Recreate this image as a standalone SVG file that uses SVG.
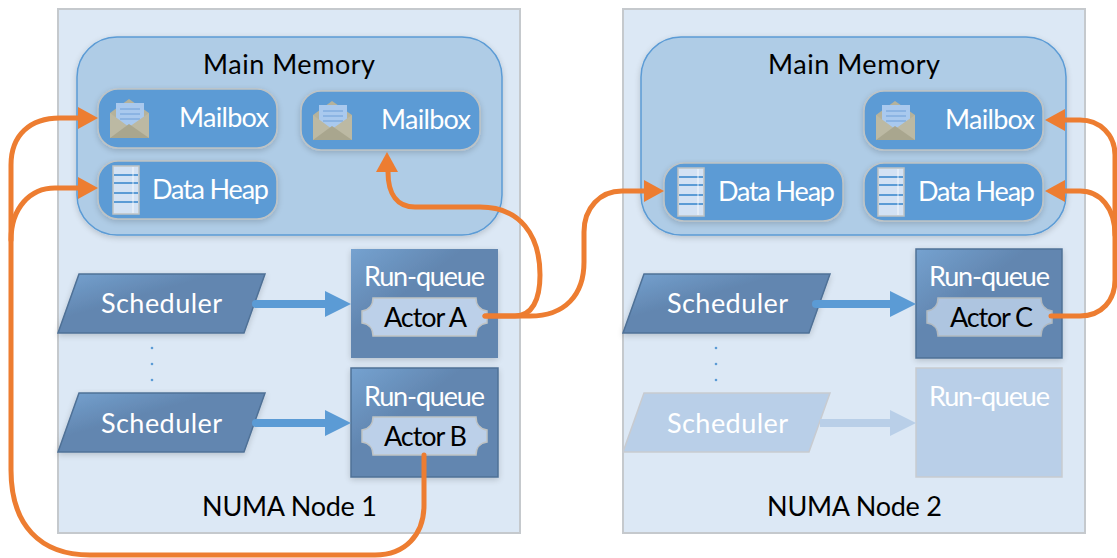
<svg xmlns="http://www.w3.org/2000/svg" width="1117" height="558" viewBox="0 0 1117 558">
<style>
text{font-family:"Lato","Open Sans","Liberation Sans",sans-serif;font-size:27px;text-anchor:start}
.w{fill:#fff}.k{fill:#000}
.panel{fill:#dce8f5;stroke:#c5c9cd;stroke-width:2}
.mem{fill:#afcce6;stroke:#5b9bd5;stroke-width:1.5;filter:url(#sh)}
.pill{fill:#5b9bd5;stroke:#bfc3c4;stroke-width:1.5;filter:url(#sh)}
.rq{fill:url(#g);filter:url(#sh)}
.rqb{fill:url(#g);stroke:#4f7196;stroke-width:1.5;filter:url(#sh)}
.fade{fill:#b9cfe8;stroke:#c8cbd0;stroke-width:1.5}
.o{fill:none;stroke:#ed7d31;stroke-width:5;stroke-linecap:round}
.oh{fill:#ed7d31}
.b{stroke:#5b9bd5;stroke-width:8;stroke-linecap:round;fill:none}
.bh{fill:#5b9bd5}
.dot{fill:#5b9bd5}
</style>
<defs>
<linearGradient id="g" x1="0" y1="0" x2="0.7" y2="0.7"><stop offset="0" stop-color="#75a2d0"/><stop offset="0.55" stop-color="#6286b0"/><stop offset="1" stop-color="#6286b0"/></linearGradient>
<filter id="sh" x="-10%" y="-10%" width="120%" height="125%"><feGaussianBlur in="SourceAlpha" stdDeviation="3"/><feOffset dy="2"/><feComponentTransfer><feFuncA type="linear" slope="0.18"/></feComponentTransfer><feMerge><feMergeNode/><feMergeNode in="SourceGraphic"/></feMerge></filter>
<g id="mail">
<path d="M0 14 L19 0 L39 14 V39 H0Z" fill="#b5b29b"/>
<rect x="6" y="4" width="28" height="24" fill="#a9c9ee"/>
<path d="M10 10H30M10 15H30M10 20H30" stroke="#6f9fd8" stroke-width="1"/>
<path d="M0 14 L19 28 L39 14 V39 H0Z" fill="#bcb9a3"/>
<path d="M0 39 L19 25 L39 39" fill="#a9a68e"/>
</g>
<g id="heap">
<rect x="0" y="0" width="26" height="48" fill="#d3e2f4" stroke="#bfc3c4" stroke-width="1.5"/>
<path d="M1 9H25M1 17H25M1 27H25M1 36H25" stroke="#5b9bd5" stroke-width="1.8"/>
<path d="M20 1V47" stroke="#fff" stroke-width="0.8"/>
</g>
<path id="actor" d="M11 0H114C114 7 118 12 125 13V25C118 26 114 31 114 38H11C11 31 7 26 0 25V13C7 12 11 7 11 0Z" fill="#bcd0e9" stroke="#bfc3c4" stroke-width="1.5"/>
</defs>

<g id="numa1">
<rect class="panel" x="58" y="9" width="462" height="524"/>
<text class="k" x="202" y="516" textLength="175" lengthAdjust="spacing">NUMA Node 1</text>
</g>
<g id="numa2">
<rect class="panel" x="623" y="9" width="462" height="524"/>
<text class="k" x="767" y="516" textLength="175" lengthAdjust="spacing">NUMA Node 2</text>
</g>
<g id="memory1">
<rect class="mem" x="77" y="37" width="425" height="198" rx="40"/>
<text class="k" x="203" y="74" textLength="172" lengthAdjust="spacing">Main Memory</text>
</g>
<g id="memory2">
<rect class="mem" x="641" y="37" width="425" height="198" rx="40"/>
<text class="k" x="768" y="74" textLength="172" lengthAdjust="spacing">Main Memory</text>
</g>
<g id="mailbox1">
<rect class="pill" x="98" y="89" width="179" height="59" rx="20"/>
<use href="#mail" x="110" y="99"/>
<text class="w" x="179" y="127" textLength="90" lengthAdjust="spacing">Mailbox</text>
</g>
<g id="heap1">
<rect class="pill" x="98" y="161" width="179" height="58" rx="20"/>
<use href="#heap" x="113" y="166"/>
<text class="w" x="152" y="199" textLength="117" lengthAdjust="spacing">Data Heap</text>
</g>
<g id="mailbox2">
<rect class="pill" x="301" y="91" width="179" height="59" rx="20"/>
<use href="#mail" x="313" y="101"/>
<text class="w" x="381" y="129" textLength="90" lengthAdjust="spacing">Mailbox</text>
</g>
<g id="heap2">
<rect class="pill" x="664" y="163" width="179" height="58" rx="20"/>
<use href="#heap" x="678" y="168"/>
<text class="w" x="718" y="201" textLength="117" lengthAdjust="spacing">Data Heap</text>
</g>
<g id="mailbox3">
<rect class="pill" x="864" y="91" width="179" height="59" rx="20"/>
<use href="#mail" x="876" y="101"/>
<text class="w" x="945" y="129" textLength="90" lengthAdjust="spacing">Mailbox</text>
</g>
<g id="heap3">
<rect class="pill" x="864" y="163" width="179" height="58" rx="20"/>
<use href="#heap" x="878" y="168"/>
<text class="w" x="918" y="201" textLength="117" lengthAdjust="spacing">Data Heap</text>
</g>
<g id="scheduler1">
<path class="rqb" d="M79 274H265L244 333H58Z"/>
<text class="w" x="101" y="313" textLength="121" lengthAdjust="spacing">Scheduler</text>
</g>
<g id="scheduler2">
<path class="rqb" d="M79 393H265L244 452H58Z"/>
<text class="w" x="101" y="433" textLength="121" lengthAdjust="spacing">Scheduler</text>
</g>
<g id="scheduler3">
<path class="rqb" d="M644 274H830L809 333H623Z"/>
<text class="w" x="667" y="313" textLength="121" lengthAdjust="spacing">Scheduler</text>
</g>
<g id="scheduler4">
<path class="fade" d="M644 393H830L809 452H623Z"/>
<text class="w" x="667" y="433" textLength="121" lengthAdjust="spacing">Scheduler</text>
</g>
<g id="queueA">
<rect class="rq" x="351" y="249" width="147" height="109"/>
<text class="w" x="364" y="286" textLength="121" lengthAdjust="spacing">Run-queue</text>
<use href="#actor" x="362" y="298"/>
<text class="k" x="384" y="327" textLength="83" lengthAdjust="spacing">Actor A</text>
</g>
<g id="queueB">
<rect class="rqb" x="351" y="368" width="147" height="109"/>
<text class="w" x="364" y="406" textLength="121" lengthAdjust="spacing">Run-queue</text>
<use href="#actor" x="362" y="417"/>
<text class="k" x="384" y="446" textLength="83" lengthAdjust="spacing">Actor B</text>
</g>
<g id="queueC">
<rect class="rqb" x="916" y="249" width="146" height="109"/>
<text class="w" x="929" y="286" textLength="121" lengthAdjust="spacing">Run-queue</text>
<use href="#actor" x="927" y="298" opacity="0.85"/>
<text class="k" x="950" y="327" textLength="83" lengthAdjust="spacing">Actor C</text>
</g>
<g id="queueD">
<rect class="fade" x="916" y="368" width="146" height="109"/>
<text class="w" x="929" y="406" textLength="121" lengthAdjust="spacing">Run-queue</text>
</g>
<g id="dots">
<circle class="dot" cx="152" cy="348" r="1.3"/><circle class="dot" cx="152" cy="364" r="1.3"/><circle class="dot" cx="152" cy="380" r="1.3"/>
<circle class="dot" cx="716" cy="348" r="1.3"/><circle class="dot" cx="716" cy="364" r="1.3"/><circle class="dot" cx="716" cy="380" r="1.3"/>
</g>
<g id="connectors">
<path class="b" d="M256 304H330"/><path class="bh" d="M325 291L351 304L325 317Z"/>
<path class="b" d="M256 423H330"/><path class="bh" d="M325 410L351 423L325 436Z"/>
<path class="b" d="M816 304H895"/><path class="bh" d="M890 291L916 304L890 317Z"/>
<path d="M820 423H895" stroke="#b9cfe8" stroke-width="8" fill="none"/><path fill="#b9cfe8" d="M890 410L916 423L890 436Z"/>
<path class="o" d="M485 316H515C532 316 540 300 540 275C540 235 520 207 480 207H415C398 207 388 195 388 172"/>
<path class="oh" d="M387 152L376 172H398Z"/>
<path class="o" d="M485 316H530C565 316 584 295 584 262V232C584 208 600 191 622 191H645"/>
<path class="oh" d="M664 191L644 180V202Z"/>
<path class="o" d="M1051 316H1080C1102 316 1115 300 1115 280V155C1115 135 1100 120 1080 120H1062"/>
<path class="oh" d="M1045 120L1065 109V131Z"/>
<path class="o" d="M1115 235C1115 208 1100 191 1080 191H1062"/>
<path class="oh" d="M1045 191L1065 180V202Z"/>
<path class="o" d="M424 455V505C424 535 405 555 375 555H90C40 555 11 525 11 470V165C11 135 30 118 60 118H82"/>
<path class="oh" d="M98 118L78 107V129Z"/>
<path class="o" d="M11 240C11 208 30 188 55 188H82"/>
<path class="oh" d="M98 188L78 177V199Z"/>
</g>
</svg>
